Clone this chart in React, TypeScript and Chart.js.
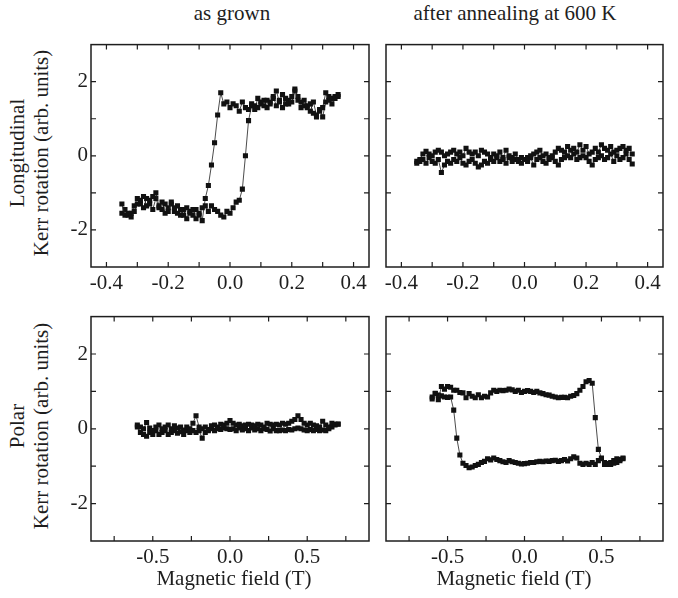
import React, { useEffect, useRef } from 'react';
import { Chart, registerables } from 'chart.js';

Chart.register(...registerables);

const FONT_FAMILY = "'Liberation Serif', 'Times New Roman', Times, serif";
const INK = '#1e1e1e';
const FONT_SIZE = 21;

// ---------- data ----------
const X_TOP = [-0.35,-0.34,-0.33,-0.32,-0.31,-0.3,-0.29,-0.28,-0.27,-0.26,-0.25,-0.24,-0.23,-0.22,-0.21,-0.2,-0.19,-0.18,-0.17,-0.16,-0.15,-0.14,-0.13,-0.12,-0.11,-0.1,-0.09,-0.08,-0.07,-0.06,-0.05,-0.04,-0.03,-0.02,-0.01,0,0.01,0.02,0.03,0.04,0.05,0.06,0.07,0.08,0.09,0.1,0.11,0.12,0.13,0.14,0.15,0.16,0.17,0.18,0.19,0.2,0.21,0.22,0.23,0.24,0.25,0.26,0.27,0.28,0.29,0.3,0.31,0.32,0.33,0.34,0.35];

// Longitudinal, as grown: increasing-field branch
const TL_UP = [
  -1.3,-1.6,-1.55,-1.65,-1.5,-1.3,-1.2,-1.1,-1.35,-1.2,
  -1.1,-1.0,-1.35,-1.45,-1.3,-1.5,-1.25,-1.4,-1.55,-1.45,
  -1.6,-1.4,-1.55,-1.45,-1.7,-1.6,-1.4,-1.35,-1.5,-1.35,
  -1.45,-1.5,-1.6,-1.65,-1.5,-1.55,-1.4,-1.25,-1.2,-0.9,
  0.0,0.95,1.35,1.35,1.3,1.45,1.35,1.5,1.4,1.55,
  1.75,1.45,1.3,1.55,1.4,1.6,1.8,1.5,1.45,1.35,
  1.3,1.4,1.15,1.05,1.2,1.3,1.7,1.5,1.55,1.6,
  1.65
];
// Longitudinal, as grown: decreasing-field branch
const TL_DOWN = [
  -1.55,-1.45,-1.6,-1.55,-1.35,-1.15,-1.3,-1.4,-1.15,-1.3,
  -1.45,-1.15,-1.4,-1.25,-1.55,-1.4,-1.3,-1.5,-1.35,-1.6,
  -1.45,-1.7,-1.5,-1.6,-1.45,-1.55,-1.75,-1.15,-0.8,-0.25,
  0.35,1.1,1.7,1.4,1.45,1.3,1.4,1.35,1.2,1.45,
  1.3,1.25,1.4,1.25,1.55,1.4,1.5,1.3,1.45,1.6,
  1.35,1.5,1.65,1.4,1.5,1.45,1.75,1.6,1.3,1.5,
  1.35,1.2,1.45,1.1,1.25,1.05,1.45,1.6,1.4,1.55,
  1.6
];

// Longitudinal, after annealing
const TR_A = [
  -0.15,-0.1,0.05,0.12,0.05,0.0,0.1,0.15,0.1,0.0,
  0.05,0.1,0.15,0.05,0.1,0.0,0.2,0.1,0.05,0.1,
  0.0,0.15,0.1,0.05,-0.05,0.05,0.0,0.1,-0.05,0.15,
  0.0,-0.05,0.05,-0.1,-0.05,-0.1,-0.05,0.0,0.05,0.1,
  0.15,0.0,0.05,-0.05,0.0,0.1,0.2,0.15,0.1,0.25,
  0.15,0.2,0.1,0.3,0.15,0.25,0.05,0.1,0.2,0.1,
  0.3,0.2,0.15,0.25,0.1,0.15,0.2,0.25,0.15,0.2,
  0.05
];
const TR_B = [
  -0.2,-0.15,-0.1,-0.2,-0.05,-0.15,-0.2,-0.1,-0.45,-0.25,
  -0.15,-0.2,-0.1,-0.15,-0.05,-0.2,-0.25,-0.15,-0.1,-0.2,
  -0.3,-0.25,-0.15,-0.2,-0.1,-0.15,-0.05,-0.15,-0.1,-0.2,
  -0.05,-0.15,-0.1,-0.15,-0.2,-0.1,-0.15,-0.05,-0.25,-0.1,
  -0.05,-0.15,-0.2,-0.1,-0.05,-0.15,-0.25,-0.1,-0.05,0.0,
  -0.05,0.05,-0.1,-0.05,0.0,-0.05,-0.15,-0.25,-0.1,-0.05,
  0.0,-0.1,-0.05,0.05,-0.15,0.0,-0.1,-0.05,0.05,-0.1,
  -0.22
];

const X_BL = [-0.6,-0.58,-0.56,-0.54,-0.52,-0.5,-0.48,-0.46,-0.44,-0.42,-0.4,-0.38,-0.36,-0.34,-0.32,-0.3,-0.28,-0.26,-0.24,-0.22,-0.2,-0.18,-0.16,-0.14,-0.12,-0.1,-0.08,-0.06,-0.04,-0.02,0,0.02,0.04,0.06,0.08,0.1,0.12,0.14,0.16,0.18,0.2,0.22,0.24,0.26,0.28,0.3,0.32,0.34,0.36,0.38,0.4,0.42,0.44,0.46,0.48,0.5,0.52,0.54,0.56,0.58,0.6,0.62,0.64,0.66,0.68,0.7];

// Polar, as grown
const BL_A = [
  0.1,0.05,0.0,0.17,0.02,-0.05,0.05,0.1,0.0,0.05,
  0.1,0.0,0.08,0.02,0.05,-0.03,0.05,0.0,0.15,0.35,
  0.05,0.0,0.05,-0.02,0.08,0.1,0.05,0.12,0.1,0.15,
  0.22,0.15,0.1,0.12,0.08,0.1,0.12,0.1,0.08,0.12,
  0.1,0.05,0.15,0.12,0.1,0.12,0.1,0.15,0.12,0.15,
  0.2,0.25,0.35,0.25,0.15,0.1,0.15,0.1,0.08,0.05,
  0.2,0.1,0.05,0.15,0.12,0.13
];
const BL_B = [
  0.05,-0.1,-0.15,-0.2,-0.1,-0.15,-0.05,-0.15,-0.1,-0.05,
  -0.15,-0.1,-0.05,-0.12,-0.08,-0.15,-0.05,-0.1,-0.05,-0.1,
  -0.05,-0.25,-0.1,-0.05,0.0,-0.05,0.0,-0.02,0.02,0.0,
  -0.02,0.0,-0.05,0.02,-0.03,0.0,-0.05,0.02,-0.03,0.0,
  -0.05,0.0,-0.02,-0.06,0.0,-0.05,-0.05,-0.03,-0.05,-0.02,
  -0.03,0.0,0.02,0.0,-0.03,-0.05,-0.02,-0.05,-0.02,-0.05,
  -0.03,-0.05,0.0,0.05,0.1,0.12
];

const X_BR = [-0.6,-0.58,-0.56,-0.54,-0.52,-0.5,-0.48,-0.46,-0.44,-0.42,-0.4,-0.38,-0.36,-0.34,-0.32,-0.3,-0.28,-0.26,-0.24,-0.22,-0.2,-0.18,-0.16,-0.14,-0.12,-0.1,-0.08,-0.06,-0.04,-0.02,0,0.02,0.04,0.06,0.08,0.1,0.12,0.14,0.16,0.18,0.2,0.22,0.24,0.26,0.28,0.3,0.32,0.34,0.36,0.38,0.4,0.42,0.44,0.46,0.48,0.5,0.52,0.54,0.56,0.58,0.6,0.62,0.64];

// Polar, after annealing: increasing-field branch
const BR_UP = [
  0.8,0.94,0.78,1.13,1.06,1.13,1.11,1.03,1.03,0.97,
  0.96,0.83,0.94,0.87,0.83,0.91,0.83,0.87,0.85,0.96,
  1.03,1.0,1.03,1.02,1.03,1.06,1.04,1.0,1.03,0.97,
  1.0,1.02,1.0,0.97,1.0,0.96,0.94,0.91,0.9,0.87,
  0.85,0.83,0.84,0.84,0.83,0.87,0.89,0.94,1.03,1.13,
  1.26,1.29,1.22,0.3,-0.55,-0.78,-0.95,-0.93,-0.95,-0.92,
  -0.8,-0.85,-0.78
];
// Polar, after annealing: decreasing-field branch
const BR_DOWN = [
  0.85,0.95,0.9,0.88,0.85,0.84,0.85,0.5,-0.25,-0.7,
  -0.92,-0.98,-1.04,-1.02,-0.98,-0.95,-0.9,-0.87,-0.8,-0.83,
  -0.78,-0.82,-0.85,-0.88,-0.9,-0.85,-0.88,-0.9,-0.92,-0.94,
  -0.93,-0.92,-0.9,-0.9,-0.88,-0.87,-0.88,-0.86,-0.87,-0.85,
  -0.84,-0.87,-0.85,-0.82,-0.86,-0.8,-0.75,-0.78,-0.92,-0.95,
  -0.92,-0.95,-0.9,-0.95,-0.85,-0.8,-0.9,-0.95,-0.9,-0.85,
  -0.9,-0.82,-0.8
];

// ---------- ticks ----------
const TOP_X_TICKS = [-0.4,-0.3,-0.2,-0.1,0,0.1,0.2,0.3,0.4];
const TOP_X_LABELED = [-0.4,-0.2,0,0.2,0.4];
const BOT_X_TICKS = [-0.75,-0.5,-0.25,0,0.25,0.5,0.75];
const BOT_X_LABELED = [-0.5,0,0.5];
const Y_TICKS = [-2,-1,0,1,2];
const Y_LABELED = [-2,0,2];

const PAD_L = 60, PAD_T = 10, PAD_R = 10, PAD_B = 35;

type PanelProps = {
  left: number; top: number; width: number; height: number;
  xs: number[]; series: number[][];
  xMin: number; xMax: number;
  xTicks: number[]; xLabeled: number[];
  yLabels: boolean;
};

const has = (arr: number[], v: number) => arr.some(a => Math.abs(a - v) < 1e-9);

function Panel(p: PanelProps) {
  const ref = useRef<HTMLCanvasElement>(null);
  useEffect(() => {
    const canvas = ref.current!;
    const frameTicks = {
      id: 'frameTicks',
      afterDatasetsDraw(chart: any) {
        const { ctx, chartArea: a, scales } = chart;
        const len = 5;
        ctx.save();
        ctx.strokeStyle = INK;
        ctx.lineWidth = 1.2;
        ctx.beginPath();
        for (const v of p.xTicks) {
          const x = scales.x.getPixelForValue(v);
          ctx.moveTo(x, a.bottom); ctx.lineTo(x, a.bottom - len);
          ctx.moveTo(x, a.top); ctx.lineTo(x, a.top + len);
        }
        for (const v of Y_TICKS) {
          const y = scales.y.getPixelForValue(v);
          ctx.moveTo(a.left, y); ctx.lineTo(a.left + len, y);
          ctx.moveTo(a.right, y); ctx.lineTo(a.right - len, y);
        }
        ctx.stroke();
        ctx.lineWidth = 1.5;
        ctx.strokeRect(a.left, a.top, a.right - a.left, a.bottom - a.top);
        ctx.restore();
      },
    };
    const font = { family: FONT_FAMILY, size: FONT_SIZE };
    const chart = new Chart(canvas, {
      type: 'scatter',
      data: {
        datasets: p.series.map(ys => ({
          data: p.xs.map((x, i) => ({ x, y: ys[i] })),
          showLine: true,
          borderColor: INK,
          borderWidth: 0.8,
          pointStyle: 'rect',
          pointRadius: 3.6,
          pointHoverRadius: 3.6,
          pointBackgroundColor: '#111',
          pointBorderColor: '#111',
          pointBorderWidth: 0,
        })),
      },
      options: {
        animation: false,
        responsive: false,
        devicePixelRatio: 1,
        events: [],
        layout: { padding: { left: 0, top: PAD_T, right: PAD_R, bottom: 0 } },
        plugins: { legend: { display: false }, tooltip: { enabled: false } },
        scales: {
          x: {
            type: 'linear', min: p.xMin, max: p.xMax,
            grid: { display: false, drawTicks: false },
            border: { display: false },
            afterBuildTicks: (axis: any) => { axis.ticks = p.xTicks.map(value => ({ value })); },
            afterFit: (axis: any) => { axis.height = PAD_B; },
            ticks: {
              autoSkip: false, maxRotation: 0, minRotation: 0, padding: 4, color: INK, font,
              callback: (v: any) => (has(p.xLabeled, Number(v)) ? Number(v).toFixed(1) : ''),
            },
          },
          y: {
            type: 'linear', min: -3, max: 3,
            grid: { display: false, drawTicks: false },
            border: { display: false },
            afterBuildTicks: (axis: any) => { axis.ticks = Y_TICKS.map(value => ({ value })); },
            afterFit: (axis: any) => { axis.width = PAD_L; },
            ticks: {
              autoSkip: false, padding: 3, color: INK, font,
              callback: (v: any) => (p.yLabels && has(Y_LABELED, Number(v)) ? String(Number(v)) : ''),
            },
          },
        },
      } as any,
      plugins: [frameTicks],
    } as any);
    return () => chart.destroy();
  }, []);
  return (
    <canvas
      ref={ref}
      width={p.width + PAD_L + PAD_R}
      height={p.height + PAD_T + PAD_B}
      style={{ position: 'absolute', left: p.left - PAD_L, top: p.top - PAD_T }}
    />
  );
}

const textBase: React.CSSProperties = {
  position: 'absolute',
  fontFamily: FONT_FAMILY,
  fontSize: FONT_SIZE,
  lineHeight: `${FONT_SIZE}px`,
  color: INK,
  whiteSpace: 'nowrap',
};

function HText({ cx, top, children }: { cx: number; top: number; children: React.ReactNode }) {
  return <div style={{ ...textBase, left: cx, top, transform: 'translateX(-50%)' }}>{children}</div>;
}

function VText({ cx, cy, children }: { cx: number; cy: number; children: React.ReactNode }) {
  return (
    <div style={{ ...textBase, left: cx, top: cy, transform: 'translate(-50%, -50%) rotate(-90deg)' }}>
      {children}
    </div>
  );
}

export default function App() {
  return (
    <div style={{ position: 'fixed', left: 0, top: 0, width: 678, height: 598, background: '#fff', overflow: 'hidden' }}>
      <HText cx={232} top={3}>as grown</HText>
      <HText cx={515} top={3}>after annealing at 600 K</HText>

      <VText cx={17} cy={153}>Longitudinal</VText>
      <VText cx={40.5} cy={153}>Kerr rotation (arb. units)</VText>
      <VText cx={17} cy={426}>Polar</VText>
      <VText cx={40.5} cy={426}>Kerr rotation (arb. units)</VText>

      <Panel left={91} top={39} width={278} height={228} xs={X_TOP} series={[TL_UP, TL_DOWN]}
        xMin={-0.45} xMax={0.45} xTicks={TOP_X_TICKS} xLabeled={TOP_X_LABELED} yLabels={true} />
      <Panel left={386} top={39} width={277} height={228} xs={X_TOP} series={[TR_A, TR_B]}
        xMin={-0.45} xMax={0.45} xTicks={TOP_X_TICKS} xLabeled={TOP_X_LABELED} yLabels={false} />
      <Panel left={91} top={311} width={278} height={230} xs={X_BL} series={[BL_A, BL_B]}
        xMin={-0.9} xMax={0.9} xTicks={BOT_X_TICKS} xLabeled={BOT_X_LABELED} yLabels={true} />
      <Panel left={386} top={311} width={277} height={230} xs={X_BR} series={[BR_UP, BR_DOWN]}
        xMin={-0.9} xMax={0.9} xTicks={BOT_X_TICKS} xLabeled={BOT_X_LABELED} yLabels={false} />

      <HText cx={234} top={568}>Magnetic field (T)</HText>
      <HText cx={514} top={568}>Magnetic field (T)</HText>
    </div>
  );
}
